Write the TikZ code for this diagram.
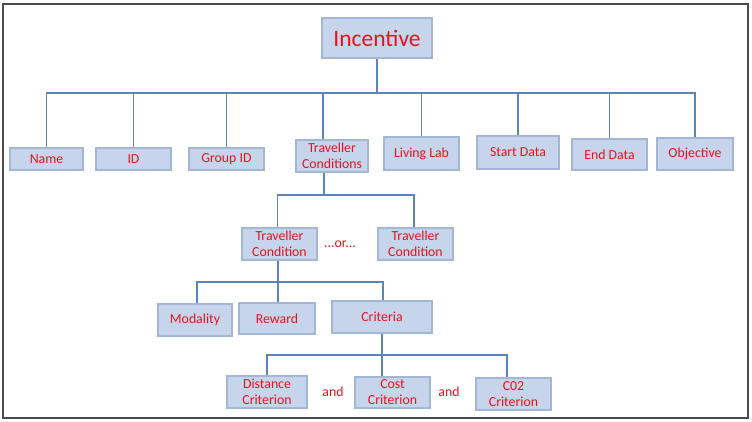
\documentclass[tikz,border=0pt]{standalone}
\usepackage{fontspec}
\setmainfont{Carlito}
\definecolor{boxfill}{HTML}{C6D5EB}
\definecolor{boxline}{HTML}{A3B7D4}
\definecolor{linkblue}{HTML}{5B84BC}
\definecolor{labelred}{HTML}{E5141C}
\begin{document}
\begin{tikzpicture}[x=1pt, y=-1pt,
    box/.style={draw=boxline, line width=2.4pt, fill=boxfill, text=labelred, align=center, inner sep=1pt,
        font=\fontsize{13.8}{16}\selectfont},
    link/.style={linkblue, line width=1.5pt},
    joiner/.style={text=labelred, font=\fontsize{13.8}{16}\selectfont}]
\useasboundingbox (0,0) rectangle (752,422);
% Frame
\draw[black!70, line width=1.6pt] (3,4) rectangle (748,418);

% Top level
\node[box, minimum width=110, minimum height=40, font=\fontsize{23.5}{26}\selectfont] (inc) at (377,38) {Incentive};

% Incentive fields
\node[box, minimum width=73, minimum height=22] (name) at (46.5,159) {Name};
\node[box, minimum width=75, minimum height=22] (id) at (133.5,159) {ID};
\node[box, minimum width=75, minimum height=22] (gid) at (226.5,159) {Group ID};
\node[box, minimum width=72, minimum height=32] (tc) at (332,156) {Traveller\\Conditions};
\node[box, minimum width=75, minimum height=33] (ll) at (421.5,153.5) {Living Lab};
\node[box, minimum width=82, minimum height=33] (sd) at (518,152.5) {Start Data};
\node[box, minimum width=75, minimum height=31] (ed) at (609.5,154.5) {End Data};
\node[box, minimum width=76, minimum height=32] (obj) at (695,154) {Objective};

\coordinate (bus1) at (377,93);
\draw[link] (inc) -- (bus1);
\foreach \n in {name,id,gid,ll,sd,ed,obj} {
    \draw[link] (bus1) -| (\n);
}
\draw[link] (bus1) -| ([xshift=-9pt]tc.north);

% Traveller conditions
\node[box, minimum width=75, minimum height=32] (tca) at (279.5,244) {Traveller\\Condition};
\node[box, minimum width=75, minimum height=32] (tcb) at (415.5,244) {Traveller\\Condition};
\node[joiner] (or) at (340,244) {...or...};

\coordinate (bus2) at (324,195);
\draw[link] (tc.south -| bus2) -- (bus2);
\draw[link] (bus2) -| ([xshift=-2pt]tca.north);
\draw[link] (bus2) -| ([xshift=-1.5pt]tcb.north);

% Condition parts
\node[box, minimum width=74, minimum height=32] (mod) at (195,320) {Modality};
\node[box, minimum width=76, minimum height=31] (rew) at (277,318.5) {Reward};
\node[box, minimum width=100, minimum height=32] (crit) at (382,317) {Criteria};

\coordinate (bus3) at (278,282);
\draw[link] (tca.south -| bus3) -- (bus3);
\draw[link] (bus3) -| ([xshift=2pt]mod.north);
\draw[link] (bus3) -| ([xshift=1pt]rew.north);
\draw[link] (bus3) -| ([xshift=1pt]crit.north);

% Criteria
\node[box, minimum width=80, minimum height=32] (dist) at (267,392) {Distance\\Criterion};
\node[box, minimum width=75, minimum height=31] (cost) at (392.5,392.5) {Cost\\Criterion};
\node[box, minimum width=75, minimum height=32] (co2) at (513.5,394) {C02\\Criterion};
\node[joiner] (and1) at (333,392) {and};
\node[joiner] (and2) at (449,392) {and};

\coordinate (bus4) at (382,355);
\draw[link] (crit.south -| bus4) -- (bus4);
\draw[link] (bus4) -| (dist);
\draw[link] (bus4) -- (bus4 |- cost.north);
\draw[link] (bus4) -| ([xshift=-6.5pt]co2.north);

\end{tikzpicture}
\end{document}
